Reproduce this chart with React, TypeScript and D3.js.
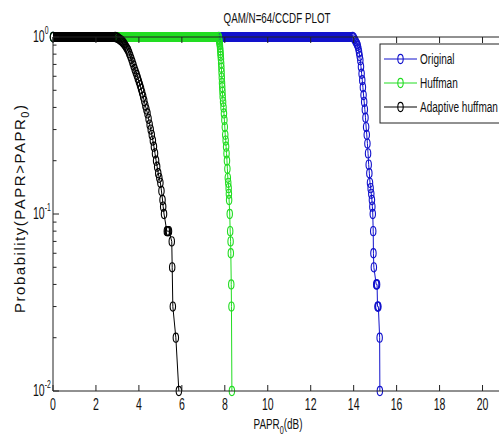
import React from "react";
import * as d3 from "d3";

// ---------- data ----------
const title = "QAM/N=64/CCDF PLOT";
const xTicks = [0, 2, 4, 6, 8, 10, 12, 14, 16, 18, 20];
const yDecades = [0, -1, -2];
const seriesNames = ["Original", "Huffman", "Adaptive huffman"];
const seriesColors = ["#1212cc", "#22dd22", "#000000"];

// [PAPR0 (dB), Probability]
const original: [number, number][] = [
  [0, 1], [13.95, 1], [14.0, 0.99], [14.04, 0.97], [14.08, 0.95], [14.12, 0.93], [14.16, 0.91],
  [14.19, 0.89], [14.22, 0.86], [14.25, 0.82], [14.28, 0.78], [14.31, 0.74], [14.34, 0.68],
  [14.37, 0.62], [14.4, 0.57], [14.43, 0.52], [14.46, 0.47], [14.49, 0.43], [14.52, 0.39],
  [14.55, 0.35], [14.58, 0.31], [14.61, 0.28], [14.64, 0.25], [14.67, 0.22], [14.7, 0.19],
  [14.73, 0.17], [14.76, 0.15], [14.79, 0.14], [14.82, 0.13], [14.85, 0.12], [14.87, 0.11],
  [14.89, 0.1], [14.91, 0.08], [14.92, 0.06], [14.94, 0.05], [15.05, 0.04], [15.07, 0.04],
  [15.09, 0.04], [15.11, 0.03], [15.13, 0.03], [15.15, 0.03], [15.21, 0.02], [15.22, 0.01],
];

const huffman: [number, number][] = [
  [0, 1], [7.72, 1], [7.73, 0.98], [7.74, 0.96], [7.75, 0.94], [7.76, 0.92], [7.77, 0.9],
  [7.78, 0.87], [7.79, 0.84], [7.8, 0.81], [7.81, 0.78], [7.82, 0.75], [7.83, 0.71],
  [7.84, 0.67], [7.85, 0.63], [7.86, 0.59], [7.87, 0.55], [7.88, 0.52], [7.89, 0.49],
  [7.9, 0.46], [7.92, 0.43], [7.94, 0.4], [7.96, 0.37], [7.98, 0.34], [8.0, 0.31],
  [8.02, 0.28], [8.04, 0.26], [8.06, 0.24], [8.08, 0.22], [8.1, 0.2], [8.12, 0.18],
  [8.14, 0.16], [8.16, 0.15], [8.18, 0.14], [8.19, 0.13], [8.2, 0.12], [8.23, 0.1],
  [8.25, 0.08], [8.27, 0.07], [8.28, 0.06], [8.3, 0.04], [8.31, 0.03], [8.33, 0.01],
];

const adaptive: [number, number][] = [
  [0, 1], [2.9, 1], [2.95, 0.995], [3.0, 0.99], [3.05, 0.98], [3.1, 0.97], [3.15, 0.96],
  [3.2, 0.95], [3.25, 0.935], [3.3, 0.92], [3.35, 0.9], [3.4, 0.88], [3.45, 0.86],
  [3.5, 0.84], [3.55, 0.81], [3.6, 0.78], [3.65, 0.75], [3.7, 0.72], [3.75, 0.69],
  [3.8, 0.66], [3.85, 0.635], [3.9, 0.61], [3.95, 0.585], [4.0, 0.56], [4.05, 0.535],
  [4.1, 0.51], [4.15, 0.485], [4.2, 0.46], [4.25, 0.435], [4.3, 0.41], [4.35, 0.39],
  [4.4, 0.37], [4.45, 0.345], [4.5, 0.32], [4.55, 0.3], [4.6, 0.28], [4.65, 0.26],
  [4.7, 0.24], [4.75, 0.22], [4.8, 0.2], [4.85, 0.185], [4.9, 0.17], [4.95, 0.16],
  [5.0, 0.15], [5.05, 0.135], [5.1, 0.12], [5.13, 0.11], [5.17, 0.1], [5.3, 0.08],
  [5.33, 0.08], [5.36, 0.08], [5.4, 0.08], [5.53, 0.07], [5.55, 0.05], [5.58, 0.03],
  [5.72, 0.02], [5.86, 0.01],
];

const allSeries = [original, huffman, adaptive];

// ---------- layout ----------
const W = 499;
const H = 439;
const FONT = "'Liberation Sans', Arial, Helvetica, sans-serif";

const x = d3.scaleLinear().domain([0, 21]).range([53, 504]);
const y = d3.scaleLog().domain([0.01, 1]).range([391, 37]);

const RX = 2.7;
const RY = 4.6;

function CText(props: {
  x: number; y: number; size: number; sx?: number; anchor?: string; children: React.ReactNode;
}) {
  const { sx = 0.62, anchor = "middle" } = props;
  return (
    <text
      transform={`translate(${props.x},${props.y}) scale(${sx},1)`}
      fontSize={props.size}
      textAnchor={anchor}
      fontFamily={FONT}
      fill="#111"
    >
      {props.children}
    </text>
  );
}

export default function App() {
  const line = d3
    .line<[number, number]>()
    .x((d) => x(d[0]))
    .y((d) => y(d[1]));

  const [x0, x1] = x.range();
  const [yb, yt] = y.range();

  const minorTicks: number[] = [];
  [0.01, 0.1].forEach((dec) => {
    for (let k = 2; k <= 9; k++) minorTicks.push(dec * k);
  });

  const legendRows = [59, 83, 107];

  return (
    <svg
      width={W}
      height={H}
      style={{ position: "absolute", left: 0, top: 0, background: "#fff" }}
    >
      <rect x={0} y={0} width={W} height={H} fill="#fff" />

      {/* data */}
      {allSeries.map((s, i) => {
        const flat = s.filter((d) => d[1] === 1);
        const color = seriesColors[i];
        return (
          <g key={i}>
            <path
              d={line(flat) || ""}
              stroke={color}
              strokeWidth={2 * RY + 1}
              fill="none"
            />
            <path d={line(s) || ""} stroke={color} strokeWidth={1} fill="none" />
            {s.map((d, j) => (
              <ellipse
                key={j}
                cx={x(d[0])}
                cy={y(d[1])}
                rx={RX}
                ry={RY}
                fill="none"
                stroke={color}
                strokeWidth={1.1}
              />
            ))}
          </g>
        );
      })}

      {/* axes frame */}
      <g stroke="#222" strokeWidth={1} fill="none">
        <line x1={x0} x2={x1} y1={yt} y2={yt} />
        <line x1={x0} x2={x1} y1={yb} y2={yb} />
        <line x1={x0} x2={x0} y1={yt} y2={yb} />
        {xTicks.map((t) => (
          <g key={t}>
            <line x1={x(t)} x2={x(t)} y1={yb} y2={yb - 6} />
            <line x1={x(t)} x2={x(t)} y1={yt} y2={yt + 6} />
          </g>
        ))}
        {yDecades.map((e) => (
          <line key={e} x1={x0} x2={x0 + 6} y1={y(Math.pow(10, e))} y2={y(Math.pow(10, e))} />
        ))}
        {minorTicks.map((m, i) => (
          <line key={i} x1={x0} x2={x0 + 3.5} y1={y(m)} y2={y(m)} />
        ))}
      </g>

      {/* x tick labels */}
      {xTicks.map((t) => (
        <CText key={t} x={x(t)} y={410} size={17}>
          {t}
        </CText>
      ))}

      {/* y tick labels */}
      {yDecades.map((e) => (
        <CText key={e} x={33} y={y(Math.pow(10, e)) + 5} size={17} anchor="start">
          10
          <tspan fontSize={11} dy={-8}>
            {e}
          </tspan>
        </CText>
      ))}

      {/* title */}
      <CText x={277} y={23} size={14} sx={0.7}>
        {title}
      </CText>

      {/* x label */}
      <CText x={278} y={429} size={15} sx={0.66}>
        PAPR
        <tspan fontSize={11} dy={5}>
          0
        </tspan>
        <tspan dy={-5}>(dB)</tspan>
      </CText>

      {/* y label */}
      <text
        transform={`translate(25,209) rotate(-90)`}
        fontSize={15}
        textAnchor="middle"
        fontFamily={FONT}
        fill="#111"
        textLength={208}
        lengthAdjust="spacing"
      >
        Probability(PAPR&gt;PAPR
        <tspan fontSize={11} dy={4}>
          0
        </tspan>
        <tspan dy={-4}>)</tspan>
      </text>

      {/* legend */}
      <rect x={380} y={44} width={140} height={79} fill="#fff" stroke="#222" strokeWidth={1} />
      {seriesNames.map((n, i) => (
        <g key={n}>
          <line
            x1={384}
            x2={417}
            y1={legendRows[i]}
            y2={legendRows[i]}
            stroke={seriesColors[i]}
            strokeWidth={1}
          />
          <ellipse
            cx={400.5}
            cy={legendRows[i]}
            rx={RX}
            ry={RY}
            fill="none"
            stroke={seriesColors[i]}
            strokeWidth={1.1}
          />
          <CText x={420} y={legendRows[i] + 5} size={15} sx={0.67} anchor="start">
            {n}
          </CText>
        </g>
      ))}
    </svg>
  );
}
